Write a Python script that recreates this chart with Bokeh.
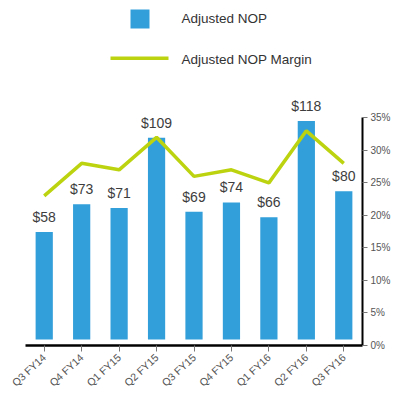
from bokeh.plotting import figure
from bokeh.models import (Range1d, LinearAxis, FixedTicker,
                          PrintfTickFormatter, ColumnDataSource)
from bokeh.core.properties import value
from bokeh.embed import file_html
from bokeh.resources import INLINE

quarters = ["Q3 FY14", "Q4 FY14", "Q1 FY15", "Q2 FY15", "Q3 FY15",
            "Q4 FY15", "Q1 FY16", "Q2 FY16", "Q3 FY16"]
nop = [58, 73, 71, 109, 69, 74, 66, 118, 80]
margin = [23, 28, 27, 32, 26, 27, 25, 33, 28]
pct_ticks = [0, 5, 10, 15, 20, 25, 30, 35]
series_names = ["Adjusted NOP", "Adjusted NOP Margin"]

BAR = "#329FDA"
LINE = "#BCD30F"
FONT = "Liberation Sans"

xpos = [i + 0.5 for i in range(len(quarters))]
src = ColumnDataSource(dict(x=xpos, nop=nop, margin=margin,
                            lab=["$%d" % v for v in nop]))

p = figure(width=394, height=395, x_range=Range1d(0, len(quarters)),
           y_range=Range1d(0, 51.8), output_backend="svg", toolbar_location=None,
           min_border_left=25, min_border_right=32, min_border_top=8, min_border_bottom=48,
           x_axis_location=None, y_axis_location=None)
p.extra_y_ranges = {"nop": Range1d(-3.2, 178.7), "py": Range1d(0, 339)}
p.extra_x_ranges = {"px": Range1d(0, 337)}
p.outline_line_color = None
p.xgrid.visible = False
p.ygrid.visible = False
p.background_fill_color = "white"
p.border_fill_color = "white"

p.vbar(x="x", top="nop", bottom=0, width=0.46, source=src, y_range_name="nop",
       color=BAR, line_color=None)
p.line(x="x", y="margin", source=src, line_color=LINE, line_width=3.5)
p.text(x="x", y="nop", text="lab", source=src, y_range_name="nop",
       text_align="center", text_baseline="bottom", y_offset=-7,
       text_font=value(FONT), text_font_size="14px", text_color="#3d3d3d")

# Legend
p.scatter(x=[114.5], y=[328.5], marker="square", size=19, color=BAR, line_color=None,
          x_range_name="px", y_range_name="py")
p.line(x=[85, 143], y=[289, 289], line_color=LINE, line_width=3.5,
       x_range_name="px", y_range_name="py")
p.text(x=[156, 156], y=[329, 288], text=series_names, x_range_name="px", y_range_name="py",
       text_align="left", text_baseline="middle", text_font=value(FONT),
       text_font_size="13.5px", text_color="#333333")

xa = LinearAxis(ticker=FixedTicker(ticks=xpos))
xa.major_label_overrides = {x: q for x, q in zip(xpos, quarters)}
xa.axis_line_color = "black"
xa.axis_line_width = 2.5
xa.major_tick_line_color = "#777777"
xa.major_tick_out = 6
xa.major_tick_in = 0
xa.minor_tick_line_color = None
xa.major_label_orientation = 0.75
xa.major_label_text_font = FONT
xa.major_label_text_font_size = "10.5px"
xa.major_label_text_color = "#555555"
xa.major_label_standoff = 4
p.add_layout(xa, "below")

ya = LinearAxis(ticker=FixedTicker(ticks=pct_ticks), formatter=PrintfTickFormatter(format="%d%%"),
                bounds=(0, 35))
ya.axis_line_color = "black"
ya.axis_line_width = 2
ya.major_tick_line_color = "#777777"
ya.major_tick_out = 5
ya.major_tick_in = 0
ya.minor_tick_line_color = None
ya.major_label_text_font = FONT
ya.major_label_text_font_size = "10px"
ya.major_label_text_color = "#555555"
ya.major_label_standoff = 3
p.add_layout(ya, "right")

open("out.html", "w").write(file_html(p, INLINE))
